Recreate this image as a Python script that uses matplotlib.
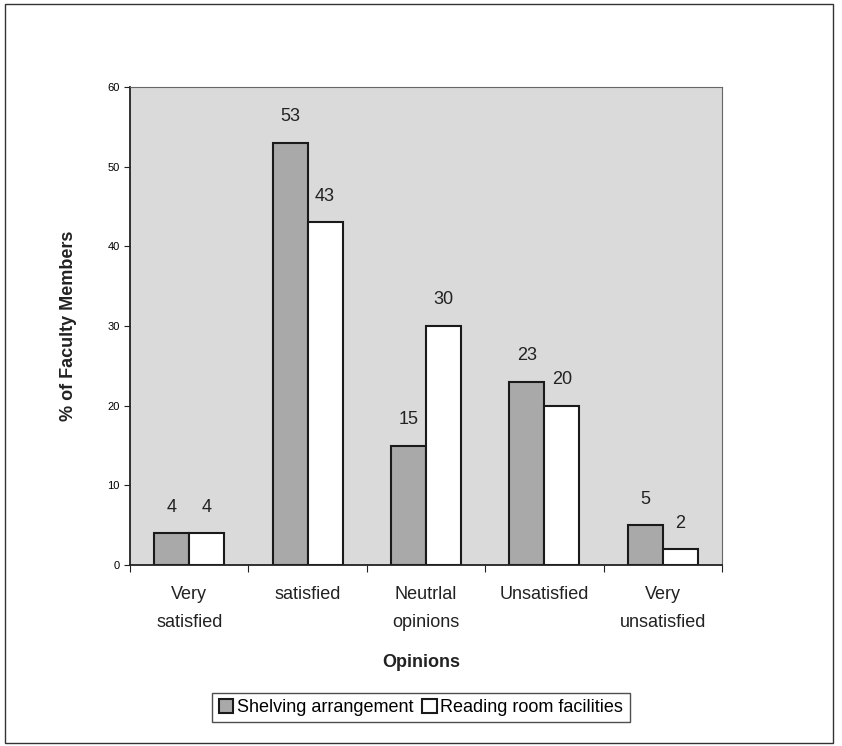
import matplotlib
matplotlib.use("Agg")
from matplotlib import pyplot as plt
from matplotlib.patches import Rectangle
import numpy as np

plt.rcParams['font.family'] = ['Liberation Sans', 'DejaVu Sans']

# survey results, % of faculty members
categories = ['Very\nsatisfied', 'satisfied', 'Neutrlal\nopinions', 'Unsatisfied', 'Very\nunsatisfied']
shelving = [4, 53, 15, 23, 5]
reading_room = [4, 43, 30, 20, 2]
yticks = [0, 10, 20, 30, 40, 50, 60]

fig = plt.figure(figsize=(8.42, 7.46), dpi=100)
fig.patch.set_facecolor('white')

# thin frame around the whole chart
fig.patches.append(Rectangle((0.006, 0.004), 0.983, 0.99, transform=fig.transFigure,
                             fill=False, edgecolor='#333333', linewidth=1.0))

ax = fig.add_axes([0.1544, 0.2426, 0.703, 0.6408])
ax.set_facecolor('#dadada')

x = np.arange(len(categories))
w = 0.295
b1 = ax.bar(x - w / 2, shelving, w, color='#a9a9a9', edgecolor='#1a1a1a',
            linewidth=1.5, label='Shelving arrangement')
b2 = ax.bar(x + w / 2, reading_room, w, color='white', edgecolor='#1a1a1a',
            linewidth=1.5, label='Reading room facilities')

for rect, v in zip(b1, shelving):
    ax.text(rect.get_x() + rect.get_width() / 2, v + 2.2, str(v),
            ha='center', va='bottom', fontsize=13, color='#222222')
for rect, v in zip(b2, reading_room):
    ax.text(rect.get_x() + rect.get_width() / 2, v + 2.2, str(v),
            ha='center', va='bottom', fontsize=13, color='#222222')

ax.set_xlim(-0.5, len(categories) - 0.5)
ax.set_ylim(0, 60)
ax.set_yticks(yticks)
ax.set_yticklabels([str(t) for t in yticks], fontsize=8)
ax.set_xticks(np.arange(-0.5, len(categories), 1.0), minor=False)
ax.set_xticklabels([])
ax.tick_params(axis='x', length=5, direction='out', color='#222222')
ax.tick_params(axis='y', length=4, direction='out', color='#222222')

for i, c in enumerate(categories):
    ax.text(i, -2.6, c, ha='center', va='top', fontsize=13, color='#222222',
            linespacing=1.9)

# plot area border: heavy axes, light top/right edge
for s in ['top', 'right']:
    ax.spines[s].set_linewidth(0.8)
    ax.spines[s].set_color('#666666')
ax.spines['left'].set_linewidth(1.3)
ax.spines['bottom'].set_linewidth(1.3)
ax.spines['left'].set_color('#222222')
ax.spines['bottom'].set_color('#222222')

ax.set_ylabel('% of Faculty Members', fontsize=13, fontweight='bold', labelpad=22,
              color='#222222')
fig.text(0.5, 0.112, 'Opinions', ha='center', va='center', fontsize=13,
         fontweight='bold', color='#222222')

leg = fig.legend(handles=[b1, b2], loc='center', bbox_to_anchor=(0.5, 0.0515), ncol=2,
                 fontsize=13, frameon=True, fancybox=False, edgecolor='#222222',
                 handlelength=0.8, handleheight=0.8, handletextpad=0.2,
                 columnspacing=0.5, borderpad=0.35)
leg.get_frame().set_linewidth(1.0)

fig.savefig('out.png', dpi=100, facecolor='white')
